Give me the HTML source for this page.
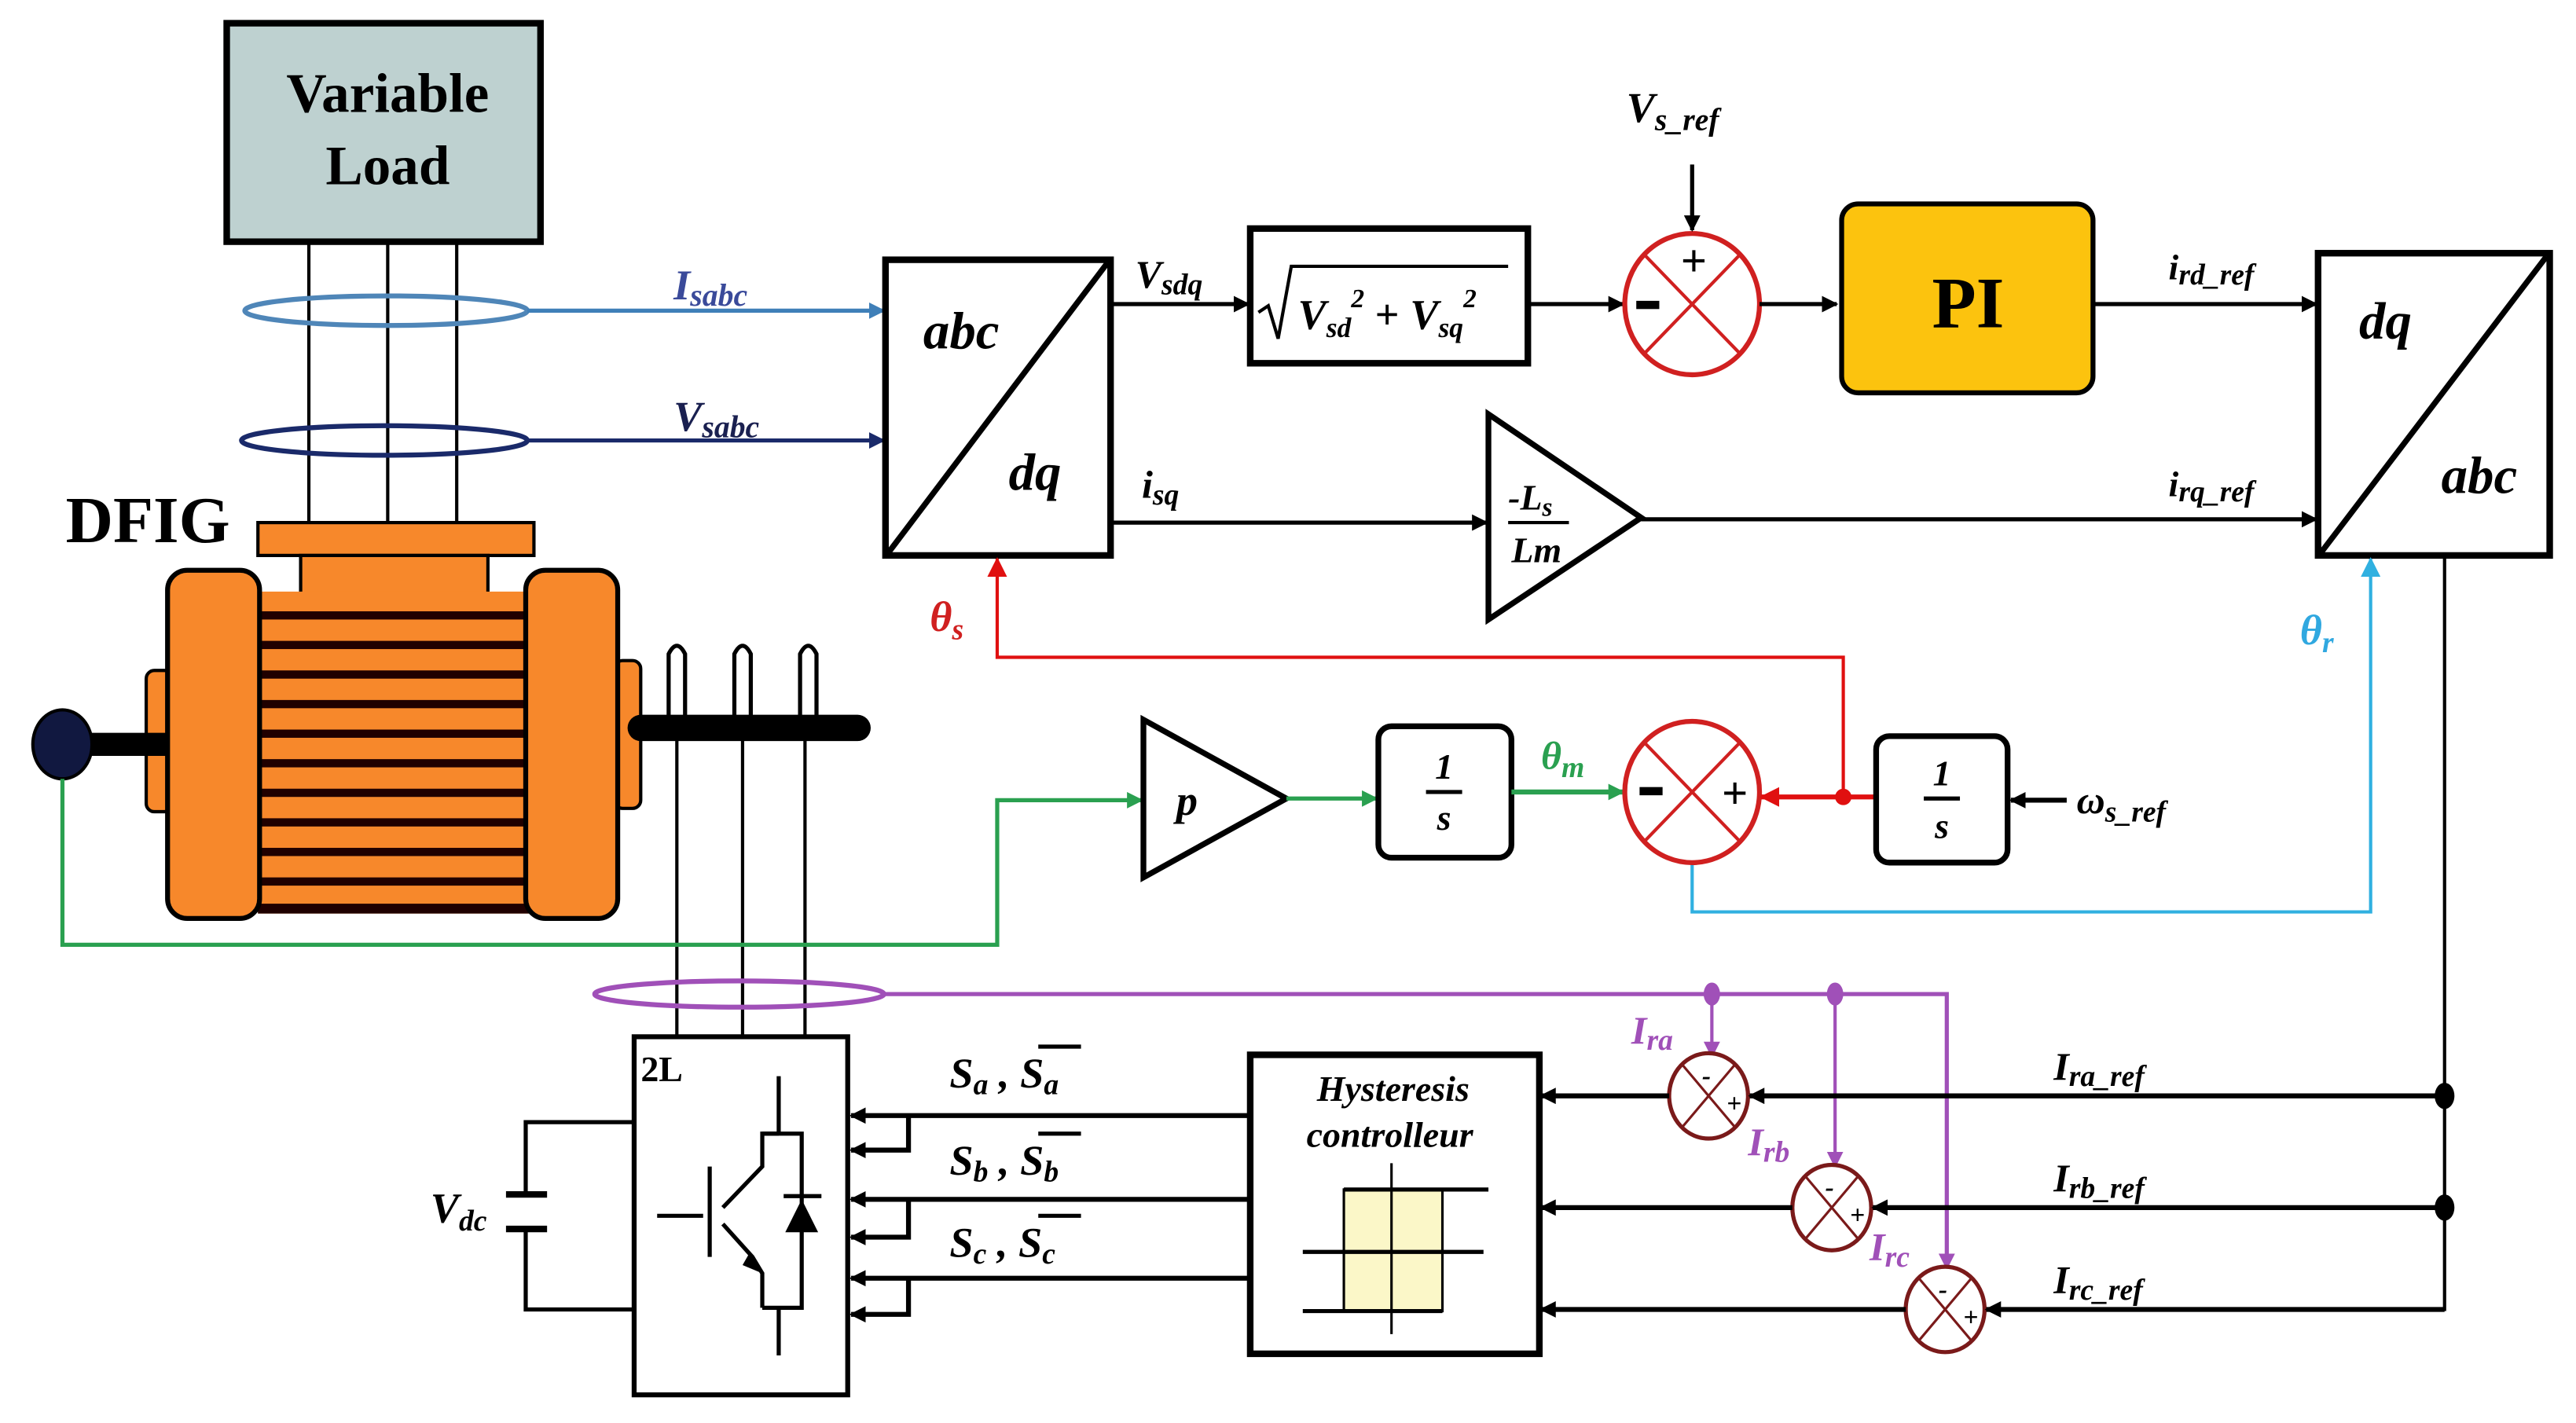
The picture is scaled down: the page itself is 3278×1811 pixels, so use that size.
<!DOCTYPE html>
<html><head><meta charset="utf-8"><style>
html,body{margin:0;padding:0;background:#fff;}
svg{display:block;}
text{font-family:"Liberation Serif",serif;font-style:italic;font-weight:bold;}
</style></head><body>
<svg width="3278" height="1811" viewBox="0 0 1568 866" xmlns="http://www.w3.org/2000/svg">
<defs>
<marker id="ab" markerWidth="10" markerHeight="10" refX="9" refY="5" orient="auto" markerUnits="userSpaceOnUse"><path d="M0,0 L10,5 L0,10 Z" fill="#000"/></marker>
<marker id="ablue" markerWidth="10" markerHeight="10" refX="9" refY="5" orient="auto" markerUnits="userSpaceOnUse"><path d="M0,0 L10,5 L0,10 Z" fill="#3f7fb8"/></marker>
<marker id="anavy" markerWidth="10" markerHeight="10" refX="9" refY="5" orient="auto" markerUnits="userSpaceOnUse"><path d="M0,0 L10,5 L0,10 Z" fill="#1a2a6a"/></marker>
<marker id="ared" markerWidth="12" markerHeight="12" refX="11" refY="6" orient="auto" markerUnits="userSpaceOnUse"><path d="M0,0 L12,6 L0,12 Z" fill="#e01010"/></marker>
<marker id="agreen" markerWidth="10" markerHeight="10" refX="9" refY="5" orient="auto" markerUnits="userSpaceOnUse"><path d="M0,0 L10,5 L0,10 Z" fill="#2aa050"/></marker>
<marker id="acyan" markerWidth="12" markerHeight="12" refX="11" refY="6" orient="auto" markerUnits="userSpaceOnUse"><path d="M0,0 L12,6 L0,12 Z" fill="#30b0e0"/></marker>
<marker id="apur" markerWidth="10" markerHeight="10" refX="9" refY="5" orient="auto" markerUnits="userSpaceOnUse"><path d="M0,0 L10,5 L0,10 Z" fill="#a050b8"/></marker>
</defs>

<!-- Variable Load -->
<rect x="138" y="14" width="191" height="133" fill="#bed1d0" stroke="#000" stroke-width="4"/>
<text x="236" y="68" font-size="34" text-anchor="middle" style="font-style:normal">Variable</text>
<text x="236" y="112" font-size="34" text-anchor="middle" style="font-style:normal">Load</text>
<g stroke="#000" stroke-width="2"><line x1="188" y1="148" x2="188" y2="318"/><line x1="236" y1="148" x2="236" y2="318"/><line x1="278" y1="148" x2="278" y2="318"/></g>
<ellipse cx="235" cy="189" rx="86" ry="9" fill="none" stroke="#4f86b8" stroke-width="3"/>
<ellipse cx="234" cy="268" rx="87" ry="9" fill="none" stroke="#1a2a6a" stroke-width="3"/>
<line x1="321" y1="189" x2="538" y2="189" stroke="#3f7fb8" stroke-width="2.5" marker-end="url(#ablue)"/>
<line x1="321" y1="268" x2="538" y2="268" stroke="#1a2a6a" stroke-width="2.5" marker-end="url(#anavy)"/>
<text x="410" y="182" font-size="26" fill="#3a4a9a">I<tspan font-size="19" dy="4">sabc</tspan></text>
<text x="410" y="262" font-size="26" fill="#1a2050">V<tspan font-size="19" dy="4">sabc</tspan></text>

<!-- abc/dq -->
<rect x="539" y="158" width="137" height="180" fill="#fff" stroke="#000" stroke-width="4"/>
<line x1="541" y1="336" x2="674" y2="160" stroke="#000" stroke-width="3.5"/>
<text x="562" y="212" font-size="32">abc</text>
<text x="614" y="298" font-size="32">dq</text>

<line x1="676" y1="185" x2="760" y2="185" stroke="#000" stroke-width="2.5" marker-end="url(#ab)"/>
<text x="691" y="175" font-size="24">V<tspan font-size="18" dy="4">sdq</tspan></text>
<rect x="761" y="139" width="169" height="82" fill="#fff" stroke="#000" stroke-width="4"/>
<path d="M766,190 L772,186 L778,206 L786,162 L918,162" fill="none" stroke="#000" stroke-width="2"/>
<text x="790" y="200" font-size="26">V<tspan font-size="17" dy="5">sd</tspan><tspan font-size="16" dy="-18">2</tspan><tspan dy="13" style="font-style:normal"> + </tspan>V<tspan font-size="17" dy="5">sq</tspan><tspan font-size="16" dy="-18">2</tspan></text>
<line x1="930" y1="185" x2="988" y2="185" stroke="#000" stroke-width="2.5" marker-end="url(#ab)"/>

<!-- sum 1 -->
<ellipse cx="1030" cy="185" rx="41" ry="43" fill="#fff" stroke="#d02020" stroke-width="3"/>
<g stroke="#d02020" stroke-width="2"><line x1="1001" y1="155" x2="1059" y2="215"/><line x1="1059" y1="155" x2="1001" y2="215"/></g>
<text x="1031" y="168" font-size="28" text-anchor="middle" style="font-style:normal">+</text>
<rect x="996" y="183" width="14" height="5" fill="#000"/>
<line x1="1030" y1="100" x2="1030" y2="140" stroke="#000" stroke-width="2.5" marker-end="url(#ab)"/>
<text x="990" y="74" font-size="26">V<tspan font-size="19" dy="5">s_ref</tspan></text>
<line x1="1071" y1="185" x2="1118" y2="185" stroke="#000" stroke-width="2.5" marker-end="url(#ab)"/>

<!-- PI -->
<rect x="1121" y="124" width="153" height="115" rx="10" fill="#fcc30e" stroke="#000" stroke-width="3"/>
<text x="1198" y="199" font-size="44" text-anchor="middle" style="font-style:normal">PI</text>
<line x1="1274" y1="185" x2="1410" y2="185" stroke="#000" stroke-width="2.5" marker-end="url(#ab)"/>
<text x="1320" y="170" font-size="22">i<tspan font-size="18" dy="3">rd_ref</tspan></text>

<!-- dq/abc -->
<rect x="1411" y="154" width="141" height="184" fill="#fff" stroke="#000" stroke-width="4"/>
<line x1="1413" y1="336" x2="1550" y2="156" stroke="#000" stroke-width="3.5"/>
<text x="1436" y="206" font-size="32">dq</text>
<text x="1486" y="300" font-size="32">abc</text>

<!-- isq path -->
<line x1="676" y1="318" x2="905" y2="318" stroke="#000" stroke-width="2.5" marker-end="url(#ab)"/>
<text x="695" y="303" font-size="24">i<tspan font-size="18" dy="4">sq</tspan></text>
<polygon points="906,252 906,377 999,315" fill="#fff" stroke="#000" stroke-width="3.5"/>
<text x="918" y="310" font-size="22">-L<tspan font-size="16" dy="4">s</tspan></text>
<line x1="918" y1="318" x2="955" y2="318" stroke="#000" stroke-width="2"/>
<text x="920" y="342" font-size="22">Lm</text>
<line x1="999" y1="316" x2="1410" y2="316" stroke="#000" stroke-width="2.5" marker-end="url(#ab)"/>
<text x="1320" y="302" font-size="22">i<tspan font-size="18" dy="3">rq_ref</tspan></text>

<!-- theta_s red -->
<polyline points="1122,485 1122,400 607,400 607,340" fill="none" stroke="#e01010" stroke-width="2" marker-end="url(#ared)"/>
<text x="566" y="384" font-size="26" fill="#d02020">θ<tspan font-size="18" dy="5">s</tspan></text>

<!-- black vertical from dq/abc -->
<line x1="1488" y1="338" x2="1488" y2="798" stroke="#000" stroke-width="2"/>

<!-- theta_r cyan -->
<polyline points="1030,525 1030,555 1443,555 1443,340" fill="none" stroke="#30b0e0" stroke-width="2" marker-end="url(#acyan)"/>
<text x="1400" y="392" font-size="26" fill="#30a8e0">θ<tspan font-size="18" dy="5">r</tspan></text>

<!-- DFIG -->
<text x="40" y="330" font-size="40" style="font-style:normal">DFIG</text>
<rect x="157" y="318" width="168" height="20" fill="#f7882b" stroke="#000" stroke-width="2"/>
<rect x="183" y="338" width="114" height="24" fill="#f7882b" stroke="#000" stroke-width="2"/>
<rect x="157" y="360" width="165" height="196" fill="#f7882b"/>
<g fill="#200000">
<rect x="157" y="372" width="165" height="5"/><rect x="157" y="390" width="165" height="5"/><rect x="157" y="408" width="165" height="5"/><rect x="157" y="426" width="165" height="5"/><rect x="157" y="444" width="165" height="5"/><rect x="157" y="462" width="165" height="5"/><rect x="157" y="480" width="165" height="5"/><rect x="157" y="498" width="165" height="5"/><rect x="157" y="516" width="165" height="5"/><rect x="157" y="534" width="165" height="5"/><rect x="157" y="550" width="165" height="6"/>
</g>
<rect x="89" y="408" width="16" height="86" rx="5" fill="#f7882b" stroke="#000" stroke-width="2"/>
<rect x="374" y="402" width="16" height="90" rx="5" fill="#f7882b" stroke="#000" stroke-width="2"/>
<rect x="102" y="347" width="56" height="212" rx="12" fill="#f7882b" stroke="#000" stroke-width="3"/>
<rect x="320" y="347" width="56" height="212" rx="12" fill="#f7882b" stroke="#000" stroke-width="3"/>
<line x1="40" y1="453" x2="102" y2="453" stroke="#000" stroke-width="14"/>
<ellipse cx="38" cy="453" rx="18" ry="21" fill="#111840" stroke="#000" stroke-width="2"/>
<line x1="390" y1="443" x2="522" y2="443" stroke="#000" stroke-width="16" stroke-linecap="round"/>
<g fill="none" stroke="#000" stroke-width="2.5">
<path d="M407,440 L407,398 Q412,388 417,398 L417,440"/>
<path d="M447,440 L447,398 Q452,388 457,398 L457,440"/>
<path d="M487,440 L487,398 Q492,388 497,398 L497,440"/>
</g>
<g stroke="#000" stroke-width="2"><line x1="412" y1="450" x2="412" y2="631"/><line x1="452" y1="450" x2="452" y2="631"/><line x1="490" y1="450" x2="490" y2="631"/></g>

<!-- green -->
<polyline points="38,474 38,575 607,575 607,487 695,487" fill="none" stroke="#2aa050" stroke-width="2.5" marker-end="url(#agreen)"/>
<polygon points="696,438 696,534 783,486" fill="#fff" stroke="#000" stroke-width="3.5"/>
<text x="716" y="496" font-size="26">p</text>
<line x1="783" y1="486" x2="838" y2="486" stroke="#2aa050" stroke-width="2.5" marker-end="url(#agreen)"/>
<rect x="839" y="442" width="81" height="80" rx="8" fill="#fff" stroke="#000" stroke-width="3.5"/>
<text x="879" y="474" font-size="22" text-anchor="middle">1</text>
<line x1="868" y1="482" x2="890" y2="482" stroke="#000" stroke-width="2.5"/>
<text x="879" y="505" font-size="22" text-anchor="middle">s</text>
<line x1="920" y1="482" x2="988" y2="482" stroke="#2aa050" stroke-width="3" marker-end="url(#agreen)"/>
<text x="938" y="468" font-size="24" fill="#2aa050">θ<tspan font-size="18" dy="5">m</tspan></text>

<!-- sum 2 -->
<ellipse cx="1030" cy="482" rx="41" ry="43" fill="#fff" stroke="#d02020" stroke-width="3"/>
<g stroke="#d02020" stroke-width="2"><line x1="1001" y1="452" x2="1059" y2="512"/><line x1="1059" y1="452" x2="1001" y2="512"/></g>
<rect x="998" y="479" width="14" height="5" fill="#000"/>
<text x="1056" y="492" font-size="28" text-anchor="middle" style="font-style:normal">+</text>
<line x1="1142" y1="485" x2="1072" y2="485" stroke="#e01010" stroke-width="3" marker-end="url(#ared)"/>
<circle cx="1122" cy="485" r="5" fill="#e01010"/>
<rect x="1142" y="448" width="80" height="77" rx="8" fill="#fff" stroke="#000" stroke-width="3.5"/>
<text x="1182" y="478" font-size="22" text-anchor="middle">1</text>
<line x1="1171" y1="486" x2="1193" y2="486" stroke="#000" stroke-width="2.5"/>
<text x="1182" y="510" font-size="22" text-anchor="middle">s</text>
<line x1="1258" y1="487" x2="1224" y2="487" stroke="#000" stroke-width="3" marker-end="url(#ab)"/>
<text x="1264" y="495" font-size="24">ω<tspan font-size="18" dy="5">s_ref</tspan></text>

<!-- purple -->
<ellipse cx="450" cy="605" rx="88" ry="8" fill="none" stroke="#a050b8" stroke-width="3"/>
<polyline points="538,605 1185,605 1185,772" fill="none" stroke="#a050b8" stroke-width="2.5" marker-end="url(#apur)"/>
<line x1="1042" y1="605" x2="1042" y2="643" stroke="#a050b8" stroke-width="2" marker-end="url(#apur)"/>
<line x1="1117" y1="605" x2="1117" y2="710" stroke="#a050b8" stroke-width="2" marker-end="url(#apur)"/>
<ellipse cx="1042" cy="605" rx="5" ry="7" fill="#a050b8"/>
<ellipse cx="1117" cy="605" rx="5" ry="7" fill="#a050b8"/>
<text x="993" y="635" font-size="24" fill="#a050b8">I<tspan font-size="18" dy="4">ra</tspan></text>
<text x="1064" y="703" font-size="24" fill="#a050b8">I<tspan font-size="18" dy="4">rb</tspan></text>
<text x="1138" y="767" font-size="24" fill="#a050b8">I<tspan font-size="18" dy="4">rc</tspan></text>

<!-- inverter -->
<rect x="386" y="631" width="130" height="218" fill="#fff" stroke="#000" stroke-width="3"/>
<text x="390" y="658" font-size="22" style="font-style:normal">2L</text>
<g stroke="#000" stroke-width="2.5" fill="none">
<line x1="474" y1="655" x2="474" y2="690"/>
<polyline points="464,690 488,690 488,796 464,796"/>
<polyline points="474,690 464,690 464,710 440,735"/>
<line x1="432" y1="710" x2="432" y2="765"/>
<line x1="400" y1="740" x2="428" y2="740"/>
<polyline points="440,745 458,765 464,775 464,796"/>
<line x1="474" y1="796" x2="474" y2="825"/>
<line x1="477" y1="728" x2="500" y2="728"/>
</g>
<polygon points="478,750 498,750 488,730" fill="#000"/>
<polygon points="456,763 464,775 452,770" fill="#000"/>
<!-- capacitor -->
<polyline points="386,683 320,683 320,727" fill="none" stroke="#000" stroke-width="2.5"/>
<polyline points="386,797 320,797 320,748" fill="none" stroke="#000" stroke-width="2.5"/>
<line x1="308" y1="727" x2="333" y2="727" stroke="#000" stroke-width="4"/>
<line x1="308" y1="748" x2="333" y2="748" stroke="#000" stroke-width="4"/>
<text x="262" y="744" font-size="26">V<tspan font-size="18" dy="5">dc</tspan></text>

<!-- switching signals -->
<g stroke="#000" stroke-width="3" fill="none">
<line x1="760" y1="679" x2="518" y2="679" marker-end="url(#ab)"/>
<polyline points="553,679 553,700 518,700" marker-end="url(#ab)"/>
<line x1="760" y1="730" x2="518" y2="730" marker-end="url(#ab)"/>
<polyline points="553,730 553,753 518,753" marker-end="url(#ab)"/>
<line x1="760" y1="778" x2="518" y2="778" marker-end="url(#ab)"/>
<polyline points="553,778 553,800 518,800" marker-end="url(#ab)"/>
</g>
<text x="578" y="662" font-size="26">S<tspan font-size="18" dy="4">a</tspan><tspan dy="-4"> , S</tspan><tspan font-size="18" dy="4">a</tspan></text>
<line x1="632" y1="637" x2="658" y2="637" stroke="#000" stroke-width="2.5"/>
<text x="578" y="715" font-size="26">S<tspan font-size="18" dy="4">b</tspan><tspan dy="-4"> , S</tspan><tspan font-size="18" dy="4">b</tspan></text>
<line x1="632" y1="690" x2="658" y2="690" stroke="#000" stroke-width="2.5"/>
<text x="578" y="765" font-size="26">S<tspan font-size="18" dy="4">c</tspan><tspan dy="-4"> , S</tspan><tspan font-size="18" dy="4">c</tspan></text>
<line x1="632" y1="740" x2="658" y2="740" stroke="#000" stroke-width="2.5"/>

<!-- hysteresis -->
<rect x="761" y="642" width="176" height="182" fill="#fff" stroke="#000" stroke-width="4"/>
<text x="848" y="670" font-size="22" text-anchor="middle">Hysteresis</text>
<text x="846" y="698" font-size="22" text-anchor="middle">controlleur</text>
<rect x="818" y="724" width="60" height="74" fill="#fbf7c8" stroke="#000" stroke-width="1.5"/>
<g stroke="#000" stroke-width="2.5"><line x1="818" y1="724" x2="906" y2="724"/><line x1="793" y1="762" x2="903" y2="762"/><line x1="793" y1="798" x2="878" y2="798"/></g>
<line x1="847" y1="708" x2="847" y2="812" stroke="#000" stroke-width="1.5"/>

<!-- small sums -->
<g fill="#fff" stroke="#7a1a1a" stroke-width="2.5">
<ellipse cx="1040" cy="667" rx="24" ry="26"/>
<ellipse cx="1115" cy="735" rx="24" ry="26"/>
<ellipse cx="1184" cy="797" rx="24" ry="26"/>
</g>
<g stroke="#7a1a1a" stroke-width="1.5">
<line x1="1024" y1="648" x2="1056" y2="686"/><line x1="1056" y1="648" x2="1024" y2="686"/>
<line x1="1099" y1="716" x2="1131" y2="754"/><line x1="1131" y1="716" x2="1099" y2="754"/>
<line x1="1168" y1="778" x2="1200" y2="816"/><line x1="1200" y1="778" x2="1168" y2="816"/>
</g>
<g font-size="16" style="font-style:normal">
<text x="1036" y="660">-</text><text x="1051" y="677">+</text>
<text x="1111" y="728">-</text><text x="1126" y="745">+</text>
<text x="1180" y="790">-</text><text x="1195" y="807">+</text>
</g>
<g stroke="#000" stroke-width="3">
<line x1="1488" y1="667" x2="1065" y2="667" marker-end="url(#ab)"/>
<line x1="1016" y1="667" x2="938" y2="667" marker-end="url(#ab)"/>
<line x1="1488" y1="735" x2="1140" y2="735" marker-end="url(#ab)"/>
<line x1="1091" y1="735" x2="938" y2="735" marker-end="url(#ab)"/>
<line x1="1488" y1="797" x2="1209" y2="797" marker-end="url(#ab)"/>
<line x1="1160" y1="797" x2="938" y2="797" marker-end="url(#ab)"/>
</g>
<ellipse cx="1488" cy="667" rx="6" ry="8" fill="#000"/>
<ellipse cx="1488" cy="735" rx="6" ry="8" fill="#000"/>
<text x="1250" y="657" font-size="24">I<tspan font-size="18" dy="4">ra_ref</tspan></text>
<text x="1250" y="725" font-size="24">I<tspan font-size="18" dy="4">rb_ref</tspan></text>
<text x="1250" y="787" font-size="24">I<tspan font-size="18" dy="4">rc_ref</tspan></text>
</svg>
</body></html>
